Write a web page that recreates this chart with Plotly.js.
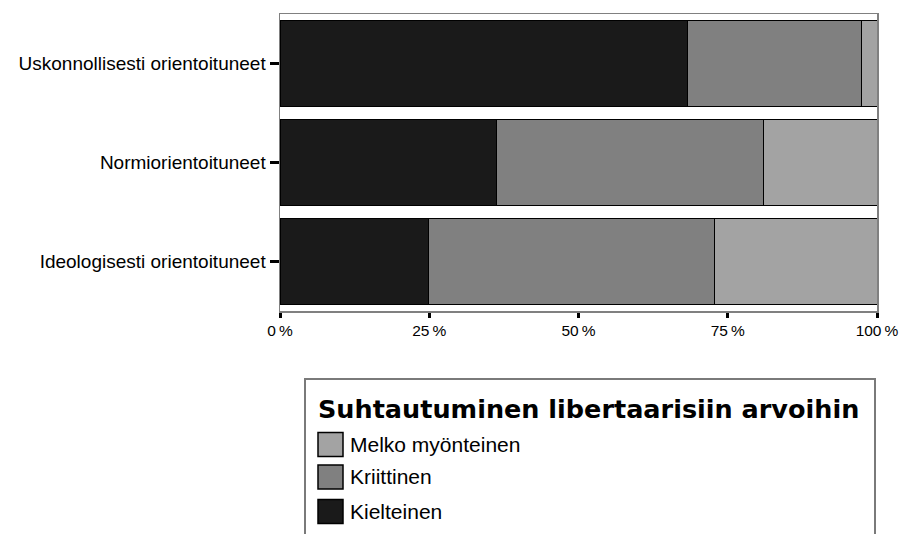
<!DOCTYPE html>
<html>
<head>
<meta charset="utf-8">
<script src="https://cdn.plot.ly/plotly-3.0.1.min.js"></script>
<style>html,body{margin:0;padding:0;background:#fff;}#chart{width:899px;height:534px;}</style>
</head>
<body>
<div id="chart"></div>
<script>
// Data
const categories = ["Uskonnollisesti orientoituneet", "Normiorientoituneet", "Ideologisesti orientoituneet"];
const seriesNames = ["Kielteinen", "Kriittinen", "Melko myönteinen"];
const kielteinen = [68.2, 36.3, 24.9];
const kriittinen = [29.2, 44.7, 47.9];
const melkoMyonteinen = [2.6, 19.0, 27.2];
const tickValues = [0, 25, 50, 75, 100];
const tickLabels = ["0\u2009%", "25\u2009%", "50\u2009%", "75\u2009%", "100\u2009%"];
const legendTitle = "Suhtautuminen libertaarisiin arvoihin";
const colors = ["#1a1a1a", "#808080", "#a3a3a3"];

const seriesValues = [kielteinen, kriittinen, melkoMyonteinen];

const W = 899, H = 534;
const M = {l: 280, r: 22, t: 14, b: 223};
const pw = W - M.l - M.r, ph = H - M.t - M.b;
const px = x => (x - M.l) / pw;
const py = y => (H - M.b - y) / ph;

const traces = seriesNames.map((name, i) => ({
  type: 'bar',
  orientation: 'h',
  name: name,
  y: categories,
  x: seriesValues[i],
  marker: {color: colors[i], line: {color: '#000', width: 1}},
  hoverinfo: 'x+name'
}));

const shapes = [];
const annotations = [];
// legend box
shapes.push({type: 'rect', xref: 'paper', yref: 'paper',
  x0: px(305), x1: px(875), y0: py(545), y1: py(379),
  line: {color: '#7a7a7a', width: 2}, fillcolor: 'rgba(0,0,0,0)'});
annotations.push({xref: 'paper', yref: 'paper', x: px(316), y: py(409),
  xanchor: 'left', yanchor: 'middle', showarrow: false, text: legendTitle,
  font: {family: 'DejaVu Sans', size: 25.5, color: '#000', weight: 'bold'}});
const legendOrder = [2, 1, 0];
const itemY = [444.5, 477, 511.5];
legendOrder.forEach((si, k) => {
  const cy = itemY[k];
  shapes.push({type: 'rect', xref: 'paper', yref: 'paper',
    x0: px(318), x1: px(343), y0: py(cy + 12), y1: py(cy - 12),
    line: {color: '#000', width: 1.5}, fillcolor: colors[si]});
  annotations.push({xref: 'paper', yref: 'paper', x: px(348), y: py(cy),
    xanchor: 'left', yanchor: 'middle', showarrow: false, text: seriesNames[si],
    font: {family: 'Liberation Sans', size: 21, color: '#000'}});
});

const layout = {
  width: W, height: H,
  margin: M,
  paper_bgcolor: '#fff', plot_bgcolor: '#fff',
  barmode: 'stack',
  bargap: 0.14,
  showlegend: false,
  font: {family: 'Liberation Sans', color: '#000'},
  xaxis: {
    range: [0, 100], tickvals: tickValues, ticktext: tickLabels,
    showgrid: false, zeroline: false, fixedrange: true,
    showline: true, linecolor: '#808080', linewidth: 1.5, mirror: true,
    ticks: 'outside', ticklen: 5, tickwidth: 3, tickcolor: '#000',
    ticklabeloverflow: 'allow',
    tickfont: {family: 'Liberation Sans', size: 15.5, color: '#000'}
  },
  yaxis: {
    type: 'category', categoryorder: 'array', categoryarray: categories,
    autorange: 'reversed',
    showgrid: false, zeroline: false, fixedrange: true,
    showline: true, linecolor: '#808080', linewidth: 1.5, mirror: true,
    ticks: 'outside', ticklen: 9, tickwidth: 3, tickcolor: '#000',
    tickfont: {family: 'Liberation Sans', size: 19, color: '#000'}
  },
  shapes: shapes,
  annotations: annotations
};

Plotly.newPlot('chart', traces, layout, {displayModeBar: false, staticPlot: true});
</script>
</body>
</html>
